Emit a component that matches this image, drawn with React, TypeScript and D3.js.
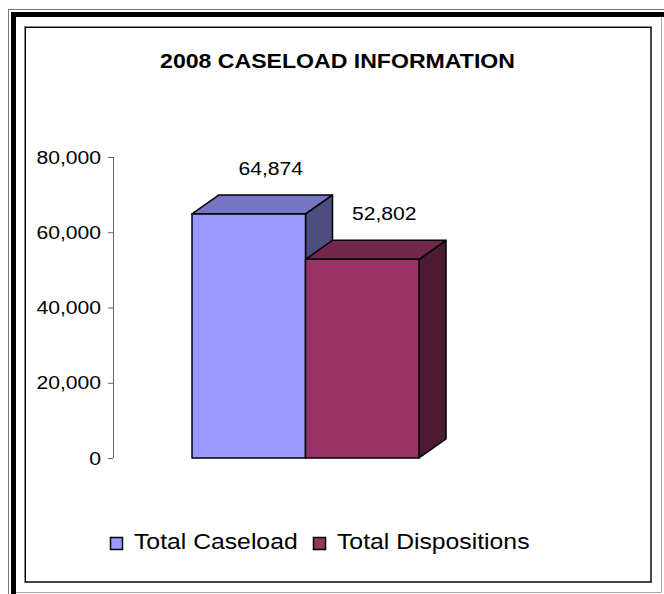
import React from "react";
import * as d3 from "d3";

const categories = ["Total Caseload", "Total Dispositions"];
const values = [64874, 52802];
const yTicks = [0, 20000, 40000, 60000, 80000];
const title = "2008 CASELOAD INFORMATION";

const W = 664;
const H = 594;
const FONT = "'Liberation Sans', Arial, sans-serif";
const SX = 1.1; // picture text is a little wider than the font

const colors = [
  { front: "#9999FF", top: "#7575C4", side: "#4D4D80" },
  { front: "#993366", top: "#74274D", side: "#4D1A33" },
];

const DX = 27;
const DY = -19;

const x = d3.scaleBand<string>().domain(categories).range([192, 419]).padding(0);
const y = d3.scaleLinear().domain([0, 80000]).range([458, 157]);
const fmt = d3.format(",");

function SText(props: {
  x: number; y: number; size: number; anchor?: string; bold?: boolean; children: React.ReactNode;
}) {
  return (
    <text
      transform={`translate(${props.x},${props.y}) scale(${SX},1)`}
      fontFamily={FONT}
      fontSize={props.size}
      fontWeight={props.bold ? "bold" : "normal"}
      textAnchor={props.anchor ?? "start"}
      fill="#000"
    >
      {props.children}
    </text>
  );
}

export default function App() {
  const axisX = 113;
  return (
    <div style={{ position: "absolute", left: 0, top: 0 }}>
      <svg width={W} height={H} style={{ display: "block", background: "#fff" }}>
        {/* outer frame */}
        <line x1={8} y1={9.5} x2={664} y2={9.5} stroke="#777" />
        <line x1={8.5} y1={9} x2={8.5} y2={594} stroke="#777" />
        <line x1={661.5} y1={17} x2={661.5} y2={592.5} stroke="#aaa" />
        <line x1={16} y1={592.5} x2={661.5} y2={592.5} stroke="#aaa" />
        <rect x={11} y={12} width={653} height={5} fill="#000" />
        <rect x={11} y={12} width={5} height={582} fill="#000" />
        {/* inner box */}
        <rect x={25} y={27} width={626} height={555} fill="none" stroke="#888" strokeWidth={2} />
        <rect x={25.5} y={27.5} width={625.5} height={554.5} fill="none" stroke="#000" strokeWidth={1} />

        <SText x={337.5} y={68} size={21} anchor="middle" bold>{title}</SText>

        {/* y axis */}
        <line x1={axisX + 0.5} y1={y(80000)} x2={axisX + 0.5} y2={y(0)} stroke="#666" />
        {yTicks.map((t) => (
          <g key={t}>
            <line x1={axisX - 5} x2={axisX} y1={y(t) + 0.5} y2={y(t) + 0.5} stroke="#666" />
            <SText x={101} y={y(t) + 6.5} size={19.2} anchor="end">{fmt(t)}</SText>
          </g>
        ))}

        {/* 3d bars */}
        {categories.map((c, i) => {
          const x0 = x(c)!;
          const x1 = x0 + x.bandwidth();
          const y0 = y(0);
          const y1 = y(values[i]);
          const col = colors[i];
          const front = `M${x0},${y0}L${x0},${y1}L${x1},${y1}L${x1},${y0}Z`;
          const top = `M${x0},${y1}L${x0 + DX},${y1 + DY}L${x1 + DX},${y1 + DY}L${x1},${y1}Z`;
          const side = `M${x1},${y0}L${x1},${y1}L${x1 + DX},${y1 + DY}L${x1 + DX},${y0 + DY}Z`;
          return (
            <g key={c} stroke="#000" strokeWidth={1.5} strokeLinejoin="round">
              <path d={side} fill={col.side} />
              <path d={top} fill={col.top} />
              <path d={front} fill={col.front} />
            </g>
          );
        })}
        {categories.map((c, i) => (
          <SText key={c} x={x(c)! + x.bandwidth() / 2 + 22} y={y(values[i]) + DY - 20} size={19.2} anchor="middle">
            {fmt(values[i])}
          </SText>
        ))}

        {/* legend */}
        {categories.map((c, i) => {
          const lx = [110, 313][i];
          return (
            <g key={c}>
              <rect x={lx + 0.5} y={537.5} width={12} height={12} fill={colors[i].front} stroke="#000" strokeWidth={1.5} />
              <SText x={lx + 24} y={549} size={22.5}>{c}</SText>
            </g>
          );
        })}
      </svg>
    </div>
  );
}
